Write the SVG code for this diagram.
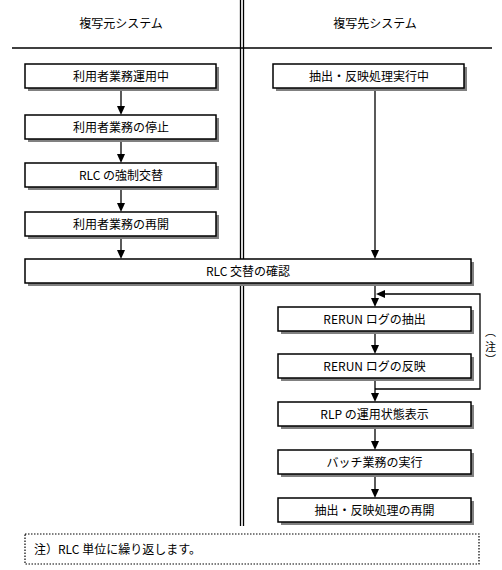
<svg xmlns="http://www.w3.org/2000/svg" width="502" height="570" viewBox="0 0 502 570">
<style>
text{font-family:"Noto Sans CJK JP","Noto Sans",sans-serif;font-size:12px;fill:#000}
.c{text-anchor:middle}
.box{fill:#fff;stroke:#000;stroke-width:1.5}
.sh{fill:#808080}
.ln{stroke:#000;stroke-width:1.3;fill:none}
.ah{fill:#000}
.nt{font-size:11px;text-anchor:middle}
</style>
<rect width="502" height="570" fill="#fff"/>
<g id="frame">
<line class="ln" x1="12" y1="48" x2="492" y2="48"/>
<line class="ln" x1="240.5" y1="0" x2="240.5" y2="526"/>
<line class="ln" x1="243.5" y1="0" x2="243.5" y2="526"/>
<text class="c" x="121" y="28">複写元システム</text>
<text class="c" x="375" y="28">複写先システム</text>
</g>
<g id="connectors">
<line class="ln" x1="121" y1="88" x2="121" y2="107"/>
<polygon class="ah" points="117,106 125,106 121,115"/>
<line class="ln" x1="121" y1="139" x2="121" y2="155"/>
<polygon class="ah" points="117,154 125,154 121,163"/>
<line class="ln" x1="121" y1="187" x2="121" y2="204"/>
<polygon class="ah" points="117,203 125,203 121,212"/>
<line class="ln" x1="121" y1="236" x2="121" y2="251"/>
<polygon class="ah" points="117,250 125,250 121,259"/>
<line class="ln" x1="375" y1="88" x2="375" y2="251"/>
<polygon class="ah" points="371,250 379,250 375,259"/>
<line class="ln" x1="375" y1="283" x2="375" y2="299"/>
<polygon class="ah" points="371,298 379,298 375,307"/>
<line class="ln" x1="375" y1="331" x2="375" y2="346"/>
<polygon class="ah" points="371,345 379,345 375,354"/>
<line class="ln" x1="375" y1="378" x2="375" y2="394"/>
<polygon class="ah" points="371,393 379,393 375,402"/>
<polyline class="ln" points="375,389 480,389 480,294 384,294"/>
<polygon class="ah" points="385,290 385,298 376,294"/>
<line class="ln" x1="375" y1="426" x2="375" y2="442"/>
<polygon class="ah" points="371,441 379,441 375,450"/>
<line class="ln" x1="375" y1="474" x2="375" y2="490"/>
<polygon class="ah" points="371,489 379,489 375,498"/>
</g>
<g id="n1"><rect class="sh" x="28" y="67" width="191" height="24"/><rect class="box" x="25" y="64" width="191" height="24"/><text class="c" x="121" y="80.5">利用者業務運用中</text></g>
<g id="n2"><rect class="sh" x="28" y="118" width="191" height="24"/><rect class="box" x="25" y="115" width="191" height="24"/><text class="c" x="121" y="131.5">利用者業務の停止</text></g>
<g id="n3"><rect class="sh" x="28" y="166" width="191" height="24"/><rect class="box" x="25" y="163" width="191" height="24"/><text class="c" x="121" y="179.5">RLC の強制交替</text></g>
<g id="n4"><rect class="sh" x="28" y="215" width="191" height="24"/><rect class="box" x="25" y="212" width="191" height="24"/><text class="c" x="121" y="228.5">利用者業務の再開</text></g>
<g id="r1"><rect class="sh" x="276" y="67" width="191" height="24"/><rect class="box" x="273" y="64" width="191" height="24"/><text class="c" x="369" y="80.5">抽出・反映処理実行中</text></g>
<g id="rlc"><rect class="sh" x="28" y="262" width="446" height="24"/><rect class="box" x="25" y="259" width="446" height="24"/><text class="c" x="248" y="275.5">RLC 交替の確認</text></g>
<g id="r2"><rect class="sh" x="281" y="310" width="193" height="24"/><rect class="box" x="278" y="307" width="193" height="24"/><text class="c" x="374.5" y="323.5">RERUN ログの抽出</text></g>
<g id="r3"><rect class="sh" x="281" y="357" width="193" height="24"/><rect class="box" x="278" y="354" width="193" height="24"/><text class="c" x="374.5" y="370.5">RERUN ログの反映</text></g>
<g id="r4"><rect class="sh" x="281" y="405" width="193" height="24"/><rect class="box" x="278" y="402" width="193" height="24"/><text class="c" x="374.5" y="418.5">RLP の運用状態表示</text></g>
<g id="r5"><rect class="sh" x="281" y="453" width="193" height="24"/><rect class="box" x="278" y="450" width="193" height="24"/><text class="c" x="374.5" y="466.5">バッチ業務の実行</text></g>
<g id="r6"><rect class="sh" x="281" y="501" width="193" height="24"/><rect class="box" x="278" y="498" width="193" height="24"/><text class="c" x="374.5" y="514.5">抽出・反映処理の再開</text></g>
<g id="loopnote">
<text class="nt" x="490.5" y="336">︵</text>
<text class="nt" x="490.5" y="351">注</text>
<text class="nt" x="490.5" y="364">︶</text>
</g>
<g id="note"><rect x="25" y="534" width="454" height="30" fill="#fff" stroke="#000" stroke-width="1.2" stroke-dasharray="1.5,1.5"/><text x="34" y="554">注）RLC 単位に繰り返します。</text></g>
</svg>
